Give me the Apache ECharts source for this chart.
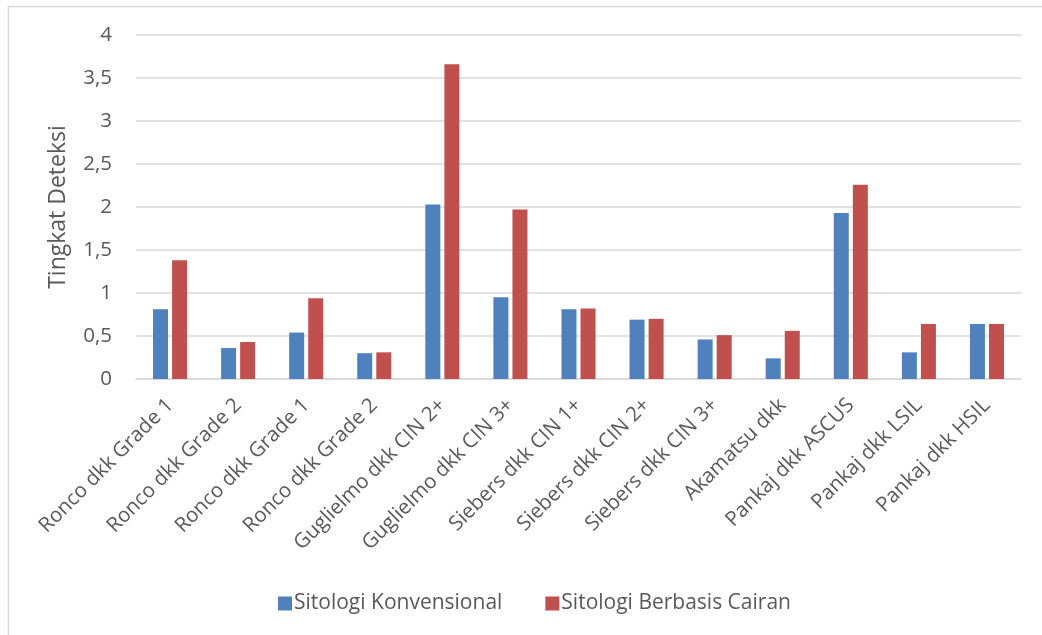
<!DOCTYPE html>
<html>
<head>
<meta charset="utf-8">
<script src="https://cdn.jsdelivr.net/npm/echarts@6/dist/echarts.min.js"></script>
<style>
html,body{margin:0;padding:0;background:#fff;}
#chart{width:1042px;height:635px;}
</style>
</head>
<body>
<div id="chart"></div>
<script>
const categories = [
  "Ronco dkk Grade 1", "Ronco dkk Grade 2", "Ronco dkk Grade 1", "Ronco dkk Grade 2",
  "Guglielmo dkk CIN 2+", "Guglielmo dkk CIN 3+", "Siebers dkk CIN 1+", "Siebers dkk CIN 2+",
  "Siebers dkk CIN 3+", "Akamatsu dkk", "Pankaj dkk ASCUS", "Pankaj dkk LSIL", "Pankaj dkk HSIL"
];
const konvensional = [0.81, 0.36, 0.54, 0.30, 2.03, 0.95, 0.81, 0.69, 0.46, 0.24, 1.93, 0.31, 0.64];
const berbasisCairan = [1.38, 0.43, 0.94, 0.31, 3.66, 1.97, 0.82, 0.70, 0.51, 0.56, 2.26, 0.64, 0.64];
const seriesNames = ["Sitologi Konvensional", "Sitologi Berbasis Cairan"];
const yAxisName = "Tingkat Deteksi";

const FONT = "'Open Sans', 'Noto Sans', sans-serif";
const TXT = "#595959";
const chart = echarts.init(document.getElementById('chart'), null, {renderer: 'canvas'});
chart.setOption({
  animation: false,
  backgroundColor: '#ffffff',
  textStyle: {fontFamily: FONT},
  graphic: [{
    type: 'rect',
    shape: {x: 8.5, y: 6.5, width: 1040, height: 700},
    style: {fill: 'none', stroke: '#d9d9d9', lineWidth: 1.5},
    silent: true
  }],
  grid: {left: 136, right: 21, top: 35, bottom: 256},
  legend: {
    left: 273, top: 588,
    itemWidth: 14, itemHeight: 14, itemGap: 43,
    icon: 'rect',
    textStyle: {fontFamily: FONT, fontSize: 21, color: TXT, padding: [0, 0, 0, -3]},
    data: seriesNames
  },
  xAxis: {
    type: 'category',
    data: categories,
    axisLine: {show: true, lineStyle: {color: '#d9d9d9', width: 1.5}},
    axisTick: {show: false},
    axisLabel: {interval: 0, rotate: 45, margin: 23, fontFamily: FONT, fontSize: 20.5, color: TXT}
  },
  yAxis: {
    type: 'value',
    min: 0, max: 4, interval: 0.5,
    name: yAxisName,
    nameLocation: 'middle',
    nameGap: 66,
    nameTextStyle: {fontFamily: FONT, fontSize: 23, color: TXT},
    axisLine: {show: false},
    axisTick: {show: false},
    axisLabel: {
      margin: 24, fontFamily: FONT, fontSize: 20.5, color: TXT,
      formatter: v => String(v).replace('.', ',')
    },
    splitLine: {lineStyle: {color: '#d9d9d9', width: 1.5}}
  },
  series: [
    {name: seriesNames[0], type: 'bar', data: konvensional, barWidth: 15, barGap: '27%',
     itemStyle: {color: '#4F81BD'}},
    {name: seriesNames[1], type: 'bar', data: berbasisCairan, barWidth: 15, barGap: '27%',
     itemStyle: {color: '#C0504D'}}
  ]
});
</script>
</body>
</html>
